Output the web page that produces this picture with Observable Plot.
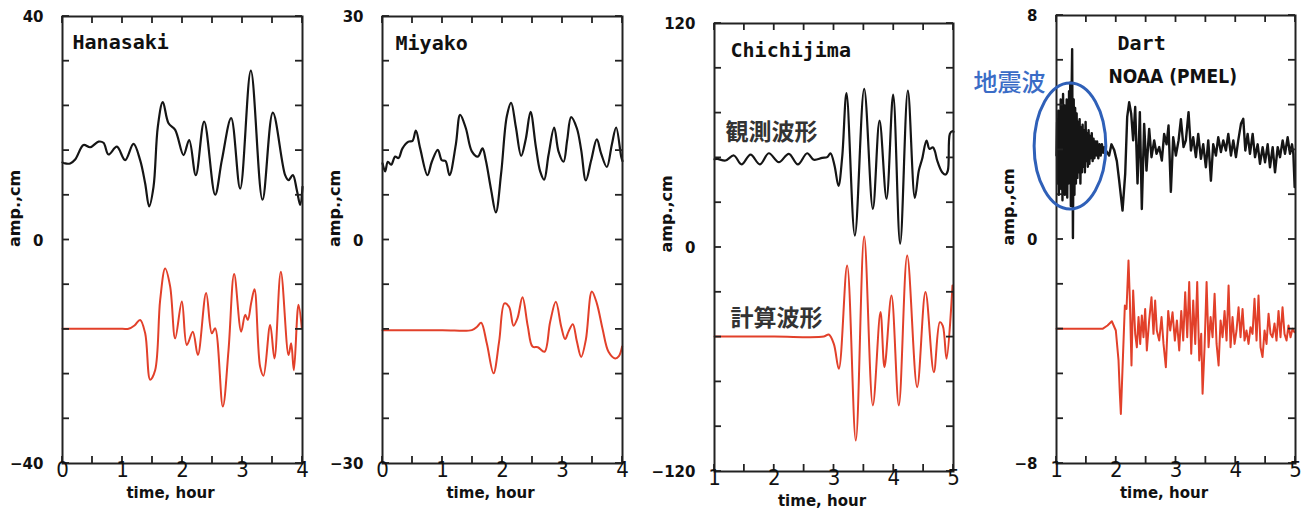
<!DOCTYPE html>
<html><head><meta charset="utf-8">
<script src="https://cdn.jsdelivr.net/npm/d3@7"></script>
<script src="https://cdn.jsdelivr.net/npm/@observablehq/plot@0.6"></script>
<style>
body{margin:0;background:#fff}
#wrap{position:relative;width:1312px;height:510px;overflow:hidden;background:#fff}
#wrap svg{position:absolute;top:0;overflow:visible;background:transparent}
</style>
</head><body><div id="wrap"></div>
<script>
// ---------- data (time in hours, amplitude in cm) ----------
const hanasakiObs = [[0.00,13.9],[0.044,13.7],[0.128,13.7],[0.211,14.4],[0.35,17.0],[0.461,16.6],[0.60,17.6],[0.683,17.4],[0.767,15.3],[0.906,16.7],[1.044,14.3],[1.183,17.2],[1.294,14.3],[1.378,10.1],[1.444,6.0],[1.517,9.5],[1.589,20.3],[1.672,24.7],[1.767,20.9],[1.878,19.7],[2.017,15.2],[2.111,17.9],[2.222,11.6],[2.361,21.2],[2.544,8.1],[2.656,14.3],[2.811,21.8],[2.961,9.2],[3.139,30.3],[3.333,7.2],[3.506,22.8],[3.711,11.6],[3.767,10.7],[3.839,11.6],[3.906,8.9],[3.961,6.3],[4.0,9.5]];
const hanasakiSim = [[0,-15.9],[0.5,-15.9],[1.0,-15.9],[1.10,-15.9],[1.20,-15.3],[1.294,-14.3],[1.378,-16.7],[1.461,-25.0],[1.544,-23.3],[1.628,-10.7],[1.711,-5.1],[1.794,-8.3],[1.878,-17.6],[1.989,-11.0],[2.072,-18.8],[2.172,-16.4],[2.256,-20.6],[2.394,-9.5],[2.489,-16.7],[2.544,-15.8],[2.672,-29.8],[2.767,-19.7],[2.861,-6.1],[2.978,-16.4],[3.044,-13.4],[3.089,-14.3],[3.144,-11.3],[3.2,-8.8],[3.294,-22.7],[3.35,-24.3],[3.461,-15.2],[3.533,-21.2],[3.639,-5.7],[3.767,-20.6],[3.811,-18.5],[3.856,-23.3],[3.933,-11.6],[3.989,-15.8]];

const miyakoObs = [[0,10.3],[0.044,9.2],[0.089,10.5],[0.144,10.1],[0.211,11.2],[0.267,11.0],[0.333,12.3],[0.433,13.2],[0.50,13.3],[0.556,14.7],[0.628,12.3],[0.75,8.7],[0.822,10.5],[0.922,12.1],[0.989,10.7],[1.05,10.6],[1.117,8.7],[1.222,12.8],[1.294,16.8],[1.389,15.0],[1.489,11.9],[1.589,11.2],[1.667,12.3],[1.722,10.7],[1.811,6.7],[1.889,3.7],[1.978,9.0],[2.072,16.6],[2.144,18.4],[2.222,15.2],[2.311,11.3],[2.389,13.6],[2.467,17.2],[2.556,12.5],[2.628,9.2],[2.694,8.1],[2.767,11.4],[2.861,15.1],[2.933,11.9],[3.017,10.5],[3.078,13.4],[3.144,16.5],[3.239,15.0],[3.311,12.1],[3.389,8.0],[3.478,10.7],[3.572,13.5],[3.644,11.6],[3.739,9.8],[3.822,12.8],[3.894,15.1],[3.978,11.2],[4.0,10.6]];
const miyakoSim = [[0,-12.1],[1.0,-12.1],[1.489,-12.1],[1.58,-11.6],[1.644,-11.1],[1.739,-13.9],[1.85,-17.9],[1.944,-13.6],[2.033,-8.5],[2.111,-9.0],[2.183,-11.5],[2.25,-10.5],[2.333,-7.7],[2.422,-11.6],[2.5,-14.3],[2.589,-14.4],[2.7,-15.0],[2.794,-11.0],[2.889,-8.3],[2.978,-11.6],[3.044,-13.3],[3.1,-12.3],[3.172,-11.3],[3.239,-13.6],[3.311,-15.7],[3.389,-13.4],[3.489,-6.9],[3.572,-8.5],[3.667,-11.9],[3.767,-15.0],[3.878,-15.9],[3.94,-15.6],[3.994,-14.3]];

const chichijimaObs = [[1.0,47.3],[1.045,47.5],[1.184,46.6],[1.324,49.3],[1.452,44.5],[1.603,49.8],[1.759,44.5],[1.909,50.5],[2.077,45.7],[2.244,50.2],[2.395,44.5],[2.551,50.5],[2.662,47.0],[2.802,48.0],[2.886,48.4],[2.941,50.5],[3.008,44.0],[3.075,33.0],[3.137,48.4],[3.209,82.7],[3.349,6.4],[3.505,85.0],[3.650,20.7],[3.762,68.0],[3.879,26.1],[3.990,81.9],[4.107,2.0],[4.236,84.1],[4.353,26.6],[4.420,41.2],[4.476,47.5],[4.548,57.3],[4.598,52.8],[4.654,53.7],[4.688,51.6],[4.727,46.6],[4.810,40.3],[4.866,39.1],[4.905,41.2],[4.939,60.9],[4.978,62.3],[5.0,62.0]];
const chichijimaSim = [[1.0,-47.7],[2.0,-47.7],[2.83,-47.7],[2.913,-46.6],[2.997,-51.6],[3.081,-65.0],[3.220,-9.6],[3.365,-103.4],[3.505,5.9],[3.650,-84.6],[3.778,-34.6],[3.845,-64.1],[3.962,-25.7],[4.085,-84.6],[4.225,-4.3],[4.392,-74.8],[4.531,-23.9],[4.671,-66.8],[4.771,-40.0],[4.821,-42.0],[4.883,-59.6],[4.983,-20.4]];

const dartObs = [[1.000,3.0],[1.010,4.2],[1.020,2.0],[1.030,4.6],[1.040,1.6],[1.050,4.0],[1.060,2.4],[1.070,5.0],[1.080,1.8],[1.090,4.4],[1.100,1.4],[1.110,5.2],[1.120,2.2],[1.130,4.8],[1.140,1.6],[1.150,4.4],[1.160,2.0],[1.170,5.0],[1.180,1.5],[1.190,4.6],[1.200,2.0],[1.210,5.3],[1.220,2.4],[1.230,5.6],[1.240,1.2],[1.250,4.8],[1.262,6.8],[1.275,0.05],[1.288,5.0],[1.300,1.6],[1.312,4.7],[1.325,2.0],[1.337,4.5],[1.350,2.2],[1.362,4.2],[1.375,2.4],[1.387,4.3],[1.400,2.0],[1.412,4.0],[1.425,2.4],[1.437,4.1],[1.450,2.6],[1.462,3.9],[1.475,2.4],[1.487,4.2],[1.500,2.8],[1.512,3.8],[1.525,2.6],[1.537,3.9],[1.550,2.7],[1.562,3.7],[1.575,2.9],[1.590,3.8],[1.605,2.8],[1.620,3.6],[1.635,2.9],[1.650,3.5],[1.665,3.0],[1.680,3.5],[1.700,2.9],[1.720,3.4],[1.740,3.0],[1.760,3.4],[1.780,3.1],[1.800,3.3],
 [1.826,3.18],[1.881,3.0],[1.92,3.4],[1.965,3.2],[2.01,2.8],[2.049,2.1],[2.105,1.03],[2.15,2.35],[2.183,4.37],[2.216,4.9],[2.25,4.49],[2.283,3.54],[2.317,4.73],[2.356,2.0],[2.395,4.55],[2.428,1.09],[2.467,4.13],[2.506,2.46],[2.551,3.95],[2.59,2.94],[2.635,3.54],[2.674,3.06],[2.719,3.3],[2.763,2.82],[2.802,3.77],[2.842,3.4],[2.875,4.07],[2.914,1.7],[2.953,3.65],[2.998,3.0],[3.043,3.54],[3.082,4.3],[3.126,3.3],[3.165,3.54],[3.21,4.55],[3.25,3.18],[3.288,3.65],[3.333,2.94],[3.372,3.77],[3.417,2.88],[3.456,3.4],[3.5,2.58],[3.54,3.54],[3.584,2.1],[3.623,3.4],[3.668,3.0],[3.707,3.65],[3.752,3.12],[3.791,3.54],[3.835,3.18],[3.875,3.77],[3.92,3.0],[3.959,3.54],[4.003,2.94],[4.042,3.54],[4.087,4.13],[4.126,4.31],[4.16,3.18],[4.199,3.77],[4.238,3.06],[4.283,3.77],[4.322,2.94],[4.367,3.4],[4.406,2.7],[4.45,3.3],[4.49,2.76],[4.534,3.4],[4.573,2.58],[4.618,3.3],[4.657,2.4],[4.702,3.3],[4.741,2.94],[4.785,3.54],[4.824,3.06],[4.869,3.65],[4.908,3.06],[4.942,3.4],[4.964,3.06],[4.986,1.87]];
const dartSim = [[1.0,-3.19],[1.5,-3.19],[1.77,-3.19],[1.854,-3.07],[1.926,-2.92],[1.993,-3.25],[2.038,-4.32],[2.06,-5.5],[2.077,-6.23],[2.095,-5.2],[2.116,-3.96],[2.144,-2.36],[2.172,-2.48],[2.205,-0.75],[2.228,-2.18],[2.255,-4.5],[2.283,-1.82],[2.317,-3.37],[2.345,-3.85],[2.373,-2.77],[2.401,-3.73],[2.428,-2.71],[2.456,-3.49],[2.484,-2.48],[2.512,-3.96],[2.551,-2.89],[2.59,-2.06],[2.623,-3.37],[2.651,-2.18],[2.679,-3.25],[2.719,-3.61],[2.758,-2.77],[2.791,-3.73],[2.83,-4.56],[2.87,-2.55],[2.903,-3.25],[2.942,-2.6],[2.981,-3.61],[3.015,-2.89],[3.054,-3.96],[3.088,-2.55],[3.121,-3.61],[3.154,-1.88],[3.188,-3.49],[3.221,-1.52],[3.255,-4.08],[3.288,-2.18],[3.322,-3.73],[3.355,-1.52],[3.389,-4.32],[3.422,-3.37],[3.445,-5.51],[3.478,-3.85],[3.512,-1.52],[3.545,-3.85],[3.579,-2.77],[3.612,-3.49],[3.646,-1.94],[3.679,-3.73],[3.713,-4.5],[3.746,-2.89],[3.779,-3.49],[3.813,-2.55],[3.846,-3.61],[3.88,-1.64],[3.913,-3.85],[3.946,-2.77],[3.98,-3.73],[4.013,-3.25],[4.047,-2.42],[4.08,-3.49],[4.114,-2.48],[4.147,-3.61],[4.18,-3.25],[4.214,-3.73],[4.247,-3.13],[4.281,-3.37],[4.314,-2.12],[4.348,-3.61],[4.381,-2.0],[4.415,-3.85],[4.448,-4.2],[4.482,-3.25],[4.515,-3.73],[4.549,-2.65],[4.582,-3.37],[4.615,-3.49],[4.649,-3.0],[4.682,-3.61],[4.716,-2.55],[4.749,-3.49],[4.783,-2.42],[4.816,-3.37],[4.85,-3.61],[4.883,-3.07],[4.917,-3.49],[4.95,-3.19],[4.983,-3.31]];

// ---------- ticks and labels ----------
const xTicks04 = [0,0.5,1,1.5,2,2.5,3,3.5,4];
const xTicks15 = [1,1.5,2,2.5,3,3.5,4,4.5,5];
const xLabels04 = [0,1,2,3,4];
const xLabels15 = [1,2,3,4,5];
const hanasakiYTicks = [-40,-32,-24,-16,-8,0,8,16,24,32,40];
const miyakoYTicks = [-30,-24,-18,-12,-6,0,6,12,18,24,30];
const chichijimaYTicks = [-120,-96,-72,-48,-24,0,24,48,72,96,120];
const dartYTicks = [-8,-6.4,-4.8,-3.2,-1.6,0,1.6,3.2,4.8,6.4,8];
const hanasakiYLabels = [-40,0,40];
const miyakoYLabels = [-30,0,30];
const chichijimaYLabels = [-120,0,120];
const dartYLabels = [-8,0,8];
const xTitle = "time, hour";
const yTitle = "amp.,cm";

// annotation anchors (data units)
const stationLabels = [
  [{text:"Hanasaki", t:0.167, v:35.4}],
  [{text:"Miyako", t:0.217, v:26.4}],
  [{text:"Chichijima", t:1.268, v:105.5}],
  [{text:"Dart", t:2.021, v:7.0}]
];
const subLabels = [[],[],[],[{text:"NOAA (PMEL)", t:1.87, v:5.82}]];
const jpLabels = [[],[],[{text:"観測波形", t:1.184, v:61.6},{text:"計算波形", t:1.268, v:-38.0}],[]];
const blueLabels = [[],[],[],[{text:"地震波", t:-0.389, v:5.57}]];
const seismicEllipse = {t:1.234, v:3.32, rt:0.60, rv:2.25};

const MONO = "'DejaVu Sans Mono', monospace";
const SANSB = "'DejaVu Sans', sans-serif";
const NARROW = "'Liberation Sans Narrow', 'DejaVu Sans Condensed', sans-serif";
const COND = "'DejaVu Sans Condensed', 'DejaVu Sans', sans-serif";
const CJK = "'Noto Sans CJK JP', sans-serif";
const RED = "#e2402a";
const INK = "#151515";

const fmt = d => (d < 0 ? "\u2212" + Math.abs(d) : String(d));

function inwardTicks(xt, yt, len) {
  return (index, scales, values, dims) => {
    const g = d3.create("svg:g").attr("stroke", "#222").attr("stroke-width", 1.8);
    const top = dims.marginTop, bottom = dims.height - dims.marginBottom;
    const left = dims.marginLeft, right = dims.width - dims.marginRight;
    for (const t of xt) {
      const px = scales.x(t);
      g.append("line").attr("x1", px).attr("x2", px).attr("y1", bottom).attr("y2", bottom - len);
      g.append("line").attr("x1", px).attr("x2", px).attr("y1", top).attr("y2", top + len);
    }
    for (const v of yt) {
      const py = scales.y(v);
      g.append("line").attr("x1", left).attr("x2", left + len).attr("y1", py).attr("y2", py);
      g.append("line").attr("x1", right).attr("x2", right - len).attr("y1", py).attr("y2", py);
    }
    return g.node();
  };
}

function ellipseMark(e) {
  return (index, scales) => {
    const cx = scales.x(e.t), cy = scales.y(e.v);
    const rx = Math.abs(scales.x(e.t + e.rt) - cx), ry = Math.abs(scales.y(e.v + e.rv) - cy);
    return d3.create("svg:ellipse").attr("cx", cx).attr("cy", cy).attr("rx", rx).attr("ry", ry)
      .attr("fill", "none").attr("stroke", "#2f60b8").attr("stroke-width", 3).node();
  };
}

const panels = [
  {left:0, width:320, m:[16,18,47,62], xd:[0,4], yd:[-40,40], xt:xTicks04, yt:hanasakiYTicks, xl:xLabels04, yl:hanasakiYLabels, obs:hanasakiObs, sim:hanasakiSim, curve:"catmull-rom", yTitleDy:7, obsW:2.2},
  {left:320, width:320, m:[16,18,47,62], xd:[0,4], yd:[-30,30], xt:xTicks04, yt:miyakoYTicks, xl:xLabels04, yl:miyakoYLabels, obs:miyakoObs, sim:miyakoSim, curve:"catmull-rom", yTitleDy:7, obsW:2.2},
  {left:640, width:330, m:[23,17,39,74], xd:[1,5], yd:[-120,120], xt:xTicks15, yt:chichijimaYTicks, xl:xLabels15, yl:chichijimaYLabels, obs:chichijimaObs, sim:chichijimaSim, curve:"catmull-rom", yTitleDy:5, obsW:2.2},
  {left:970, width:342, m:[15,17,47,86], xd:[1,5], yd:[-8,8], xt:xTicks15, yt:dartYTicks, xl:xLabels15, yl:dartYLabels, obs:dartObs, sim:dartSim, curve:"linear", yTitleDy:6, obsW:2.4, ellipse:seismicEllipse}
];

const wrap = document.getElementById("wrap");
panels.forEach((p, i) => {
  const marks = [
    Plot.line(p.sim, {x: d => d[0], y: d => d[1], stroke: RED, strokeWidth: 2, curve: p.curve}),
    Plot.line(p.obs, {x: d => d[0], y: d => d[1], stroke: INK, strokeWidth: p.obsW, curve: p.curve}),
    Plot.frame({stroke: "#222", strokeWidth: 2}),
    inwardTicks(p.xt, p.yt, 7),
    Plot.text(p.xl, {x: d => d, frameAnchor: "bottom", dy: 13, text: d => String(d), fontSize: 22, fontFamily: NARROW, fill: "#111"}),
    Plot.text(p.yl, {y: d => d, frameAnchor: "left", dx: -19, dy: 1, textAnchor: "end", text: fmt, fontSize: 15, fontWeight: "bold", fontFamily: SANSB, fill: "#111"}),
    Plot.text([xTitle], {frameAnchor: "bottom", dx: -12, dy: 34, text: d => d, fontSize: 15, fontWeight: "bold", fontFamily: SANSB, fill: "#111"}),
    Plot.text([yTitle], {frameAnchor: "left", dx: -48, dy: p.yTitleDy, rotate: -90, text: d => d, fontSize: 16, fontWeight: "bold", fontFamily: SANSB, fill: "#111"}),
    Plot.text(stationLabels[i], {x: "t", y: "v", text: "text", textAnchor: "start", fontSize: 20, fontWeight: "bold", fontFamily: MONO, fill: "#111"}),
    Plot.text(subLabels[i], {x: "t", y: "v", text: "text", textAnchor: "start", fontSize: 19, fontWeight: "bold", fontFamily: COND, fill: "#111"}),
    Plot.text(jpLabels[i], {x: "t", y: "v", text: "text", textAnchor: "start", fontSize: 23, fontWeight: "bold", fontFamily: CJK, fill: "#333"}),
    Plot.text(blueLabels[i], {x: "t", y: "v", text: "text", textAnchor: "start", fontSize: 24, fontWeight: "500", fontFamily: CJK, fill: "#3a6cc6"})
  ];
  if (p.ellipse) marks.push(ellipseMark(p.ellipse));
  const svg = Plot.plot({
    width: p.width, height: 510,
    marginTop: p.m[0], marginRight: p.m[1], marginBottom: p.m[2], marginLeft: p.m[3],
    x: {domain: p.xd, axis: null},
    y: {domain: p.yd, axis: null},
    style: {background: "transparent", overflow: "visible"},
    marks
  });
  svg.style.left = p.left + "px";
  wrap.appendChild(svg);
});
</script></body></html>
